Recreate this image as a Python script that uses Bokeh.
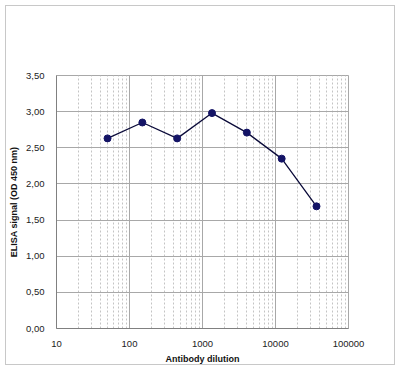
from bokeh.plotting import figure
from bokeh.embed import file_html
from bokeh.resources import INLINE
from bokeh.models import CustomJSTickFormatter, FixedTicker, Range1d, ColumnDataSource

dilution = [50, 150, 450, 1350, 4050, 12150, 36450]
signal = [2.63, 2.85, 2.63, 2.98, 2.71, 2.35, 1.69]
x_ticks = [10, 100, 1000, 10000, 100000]
y_ticks = [0.0, 0.5, 1.0, 1.5, 2.0, 2.5, 3.0, 3.5]

src = ColumnDataSource(dict(x=dilution, y=signal))

p = figure(width=390, height=360, x_axis_type="log", output_backend="svg",
           toolbar_location=None, x_range=Range1d(10, 100000), y_range=Range1d(0, 3.5),
           min_border_left=49, min_border_right=48, min_border_top=69, min_border_bottom=37,
           margin=(5, 5, 5, 5), styles={"border": "1px solid #c8c8c8", "box-sizing": "border-box"})

p.line("x", "y", source=src, line_color="#0b0b3a", line_width=1.3)
p.scatter("x", "y", source=src, size=7, fill_color="#141466", line_color="#141466")

font = "Liberation Sans"
p.xaxis.ticker = FixedTicker(ticks=x_ticks, minor_ticks=[m * d for d in [10, 100, 1000, 10000] for m in range(2, 10)])
p.yaxis.ticker = FixedTicker(ticks=y_ticks)
p.xaxis.formatter = CustomJSTickFormatter(code="return Math.round(tick).toString();")
p.yaxis.formatter = CustomJSTickFormatter(code="return tick.toFixed(2).replace('.', ',');")

for ax in (p.xaxis, p.yaxis):
    ax.major_label_text_font = font
    ax.major_label_text_font_size = "9.5px"
    ax.major_label_text_color = "#222222"
    ax.axis_label_text_font = font
    ax.axis_label_text_font_size = "9px"
    ax.axis_label_text_font_style = "bold"
    ax.axis_label_text_color = "#111111"
    ax.axis_line_color = "#808080"
    ax.major_tick_line_color = None
    ax.minor_tick_line_color = None
    ax.major_label_standoff = 6
    ax.axis_label_standoff = 4

p.xaxis.axis_label = "Antibody dilution"
p.yaxis.axis_label = "ELISA signal (OD 450 nm)"

p.xgrid.grid_line_color = "#a8a8a8"
p.ygrid.grid_line_color = "#a8a8a8"
p.xgrid.minor_grid_line_color = "#c4c4c4"
p.xgrid.minor_grid_line_dash = "2 2"
p.outline_line_color = "#a8a8a8"

open("out.html", "w").write(file_html(p, INLINE))
